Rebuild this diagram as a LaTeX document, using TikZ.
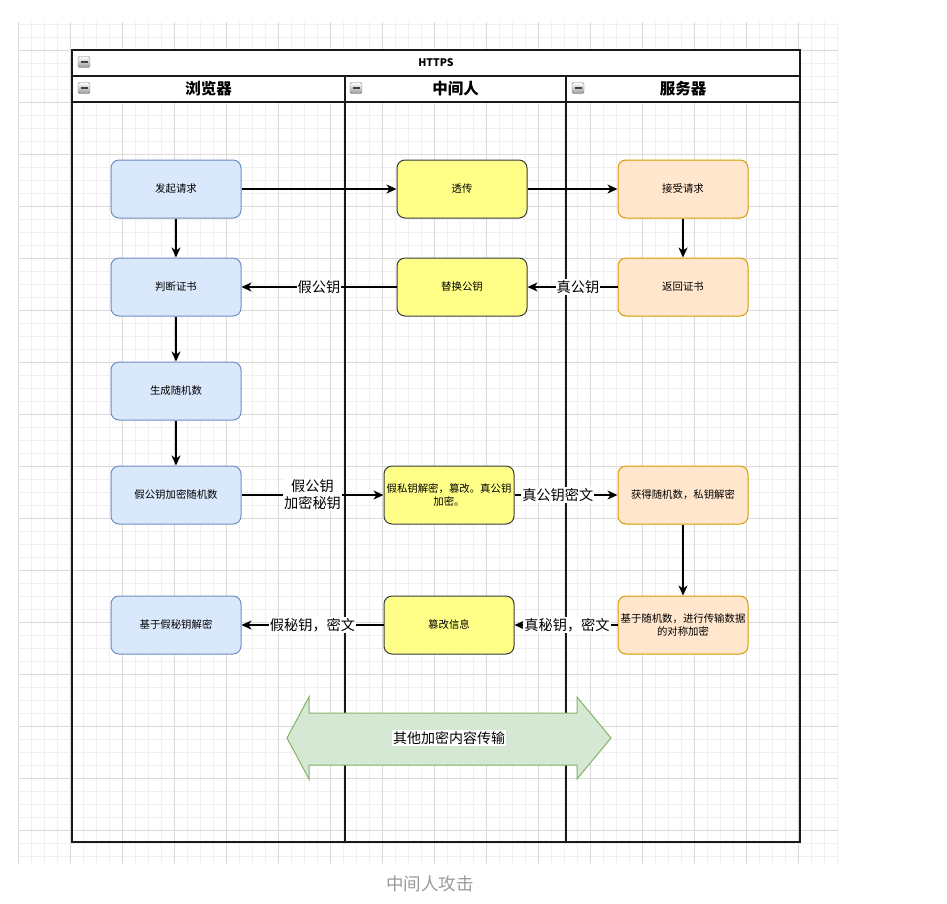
\documentclass[tikz,border=0pt]{standalone}
\usepackage{fontspec}
\setmainfont{Noto Sans CJK SC}
\usetikzlibrary{arrows.meta}
\definecolor{bluefill}{HTML}{DAE8FC}
\definecolor{bluedraw}{HTML}{6C8EBF}
\definecolor{yelfill}{HTML}{FFFF88}
\definecolor{yeldraw}{HTML}{36393D}
\definecolor{orfill}{HTML}{FFE6CC}
\definecolor{ordraw}{HTML}{D79B00}
\definecolor{grfill}{HTML}{D5E8D4}
\definecolor{grdraw}{HTML}{82B366}
\definecolor{gridminor}{HTML}{F0F0F0}
\definecolor{gridmajor}{HTML}{DADADA}
\definecolor{captgray}{HTML}{9A9A9A}
\tikzset{
  minorline/.style={draw=gridminor, line width=0.6pt},
  majorline/.style={draw=gridmajor, line width=0.7pt},
  stepnode/.style={rounded corners=8pt, minimum width=130pt, minimum height=58pt,
    line width=1pt, align=center, inner sep=2pt, font=\fontsize{10.4}{13}\selectfont},
  bbox/.style={stepnode, fill=bluefill, draw=bluedraw},
  ybox/.style={stepnode, fill=yelfill, draw=yeldraw},
  obox/.style={stepnode, fill=orfill, draw=ordraw},
  conn/.style={line width=1.3pt, -{Stealth[length=10pt,width=9pt,inset=3pt]}},
  elabel/.style={fill=white, inner sep=1pt, align=center, font=\fontsize{14.2}{17}\selectfont},
  poolline/.style={line width=1.6pt, draw=black!90},
  hdr/.style={font=\bfseries\fontsize{15.5}{18}\selectfont},
  icon/.style={draw=black!50, top color=white, bottom color=black!40, rounded corners=1.5pt,
    minimum width=12pt, minimum height=11pt, inner sep=0pt,
    path picture={\draw[line width=1.4pt, black!75]
      ([xshift=-3.5pt]path picture bounding box.center) -- ([xshift=3.5pt]path picture bounding box.center);}}
}
\begin{document}
\begin{tikzpicture}[x=1pt,y=-1pt]
\useasboundingbox (0,0) rectangle (947,903);
\fill[white] (0,0) rectangle (947,903);
% grid
\foreach \x in {18,31,...,838} \draw[minorline] (\x,22) -- (\x,864);
\foreach \y in {24,37,...,864} \draw[minorline] (18,\y) -- (838,\y);
\foreach \x in {18,70,...,838} \draw[majorline] (\x,22) -- (\x,864);
\foreach \y in {50,102,...,864} \draw[majorline] (18,\y) -- (838,\y);
% pool
\fill[white] (72,50) rectangle (800,102);
\draw[poolline] (72,50) rectangle (800,842);
\draw[poolline] (72,76) -- (800,76);
\draw[poolline] (72,102) -- (800,102);
\draw[poolline] (345,76) -- (345,842);
\draw[poolline] (566,76) -- (566,842);
\node[font=\bfseries\fontsize{10.5}{12}\selectfont] (title) at (436,63) {HTTPS};
\node[hdr] (lane1) at (208.5,89) {浏览器};
\node[hdr] (lane2) at (455.5,89) {中间人};
\node[hdr] (lane3) at (683,89) {服务器};
\node[icon] (ic0) at (84,62) {};
\node[icon] (ic1) at (84,88) {};
\node[icon] (ic2) at (356,88) {};
\node[icon] (ic3) at (578,88) {};
% browser
\node[bbox] (b1) at (176,189) {发起请求};
\node[bbox] (b2) at (176,287) {判断证书};
\node[bbox] (b3) at (176,391) {生成随机数};
\node[bbox] (b4) at (176,495) {假公钥加密随机数};
\node[bbox] (b5) at (176,625) {基于假秘钥解密};
% middle
\node[ybox] (m1) at (462,189) {透传};
\node[ybox] (m2) at (462,287) {替换公钥};
\node[ybox] (m3) at (449,495) {假私钥解密，篡改。真公钥\\加密。};
\node[ybox] (m4) at (449,625) {篡改信息};
% server
\node[obox] (s1) at (683,189) {接受请求};
\node[obox] (s2) at (683,287) {返回证书};
\node[obox] (s3) at (683,495) {获得随机数，私钥解密};
\node[obox] (s4) at (683,625) {基于随机数，进行传输数据\\的对称加密};
% connectors
\draw[conn] (b1) -- (m1);
\draw[conn] (m1) -- (s1);
\draw[conn] (s1) -- (s2);
\draw[conn] (s2) -- node[elabel, pos=0.44] {真公钥} (m2);
\draw[conn] (m2) -- node[elabel, pos=0.5] {假公钥} (b2);
\draw[conn] (b1) -- (b2);
\draw[conn] (b2) -- (b3);
\draw[conn] (b3) -- (b4);
\draw[conn] (b4) -- node[elabel, pos=0.5] {假公钥\\加密秘钥} (m3);
\draw[conn] (m3) -- node[elabel, pos=0.42] {真公钥密文} (s3);
\draw[conn] (s3) -- (s4);
\draw[conn] (s4) -- node[elabel, pos=0.49] {真秘钥，密文} (m4);
\draw[conn] (m4) -- node[elabel, pos=0.5] {假秘钥，密文} (b5);
% double arrow
\draw[fill=grfill, draw=grdraw, line width=1pt, line join=miter]
  (287,738) -- (309,697) -- (309,713) -- (577,713) -- (577,697) -- (611,738)
  -- (577,779) -- (577,765) -- (309,765) -- (309,779) -- cycle;
\node[fill=white, inner sep=1pt, font=\fontsize{14}{17}\selectfont] (other) at (449,738) {其他加密内容传输};
% caption
\node[text=captgray, font=\fontsize{17.5}{20}\selectfont] (caption) at (430,884) {中间人攻击};
\end{tikzpicture}
\end{document}
